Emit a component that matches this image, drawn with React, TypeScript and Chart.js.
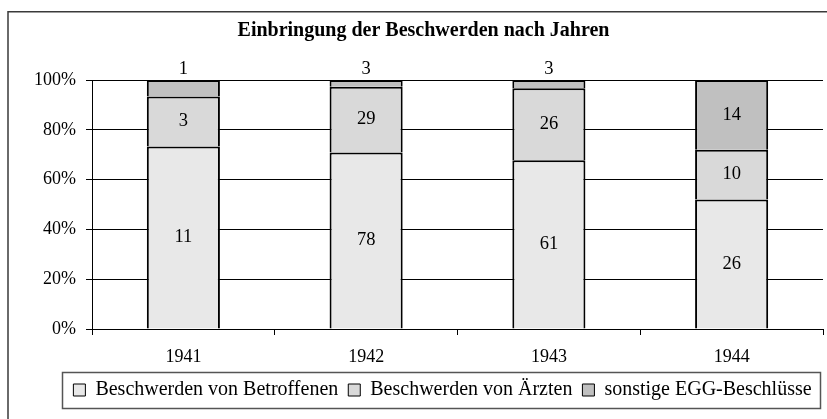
import React, { useEffect, useRef } from 'react';
import { Chart, registerables } from 'chart.js';

Chart.register(...registerables);

const years = ['1941', '1942', '1943', '1944'];
const seriesNames = ['Beschwerden von Betroffenen', 'Beschwerden von Ärzten', 'sonstige EGG-Beschlüsse'];
const betroffene = [11, 78, 61, 26];
const aerzte = [3, 29, 26, 10];
const sonstige = [1, 3, 3, 14];
const seriesColors = ['#e8e8e8', '#d9d9d9', '#c0c0c0'];
const yTickStep = 20;
const titleText = 'Einbringung der Beschwerden nach Jahren';

const FONT = '"Liberation Serif", "Times New Roman", serif';

const rawSeries = [betroffene, aerzte, sonstige];
const totals = years.map((_, i) => rawSeries.reduce((s, arr) => s + arr[i], 0));
const pctSeries = rawSeries.map((arr) => arr.map((v, i) => (v / totals[i]) * 100));

const framePlugin = {
  id: 'frame',
  beforeDraw(chart: any) {
    const ctx = chart.ctx;
    ctx.save();
    ctx.strokeStyle = '#3a3a3a';
    ctx.lineWidth = 1.5;
    ctx.beginPath();
    ctx.moveTo(8, chart.height + 5);
    ctx.lineTo(8, 11.75);
    ctx.lineTo(chart.width + 5, 11.75);
    ctx.stroke();
    ctx.restore();
  },
};

const shiftPlugin = {
  id: 'boxShift',
  afterLayout(chart: any) {
    const t = chart.titleBlock;
    if (t) {
      t.left += 7;
      t.right += 7;
    }
    const lg = chart.legend;
    if (lg) {
      lg.left += 26;
      lg.right += 26;
    }
  },
};

const legendFramePlugin = {
  id: 'legendFrame',
  afterDraw(chart: any) {
    const lg = chart.legend;
    if (!lg || !lg.legendHitBoxes || !lg.legendHitBoxes.length) return;
    const boxes = lg.legendHitBoxes;
    const first = boxes[0];
    const last = boxes[boxes.length - 1];
    const left = Math.round(first.left - 11) + 0.5;
    const right = Math.round(last.left + last.width + 8) + 0.5;
    const top = Math.round(lg.top + 2) + 0.5;
    const ctx = chart.ctx;
    ctx.save();
    ctx.strokeStyle = '#555';
    ctx.lineWidth = 1.5;
    ctx.strokeRect(left, top, right - left, 36);
    ctx.restore();
  },
};

const valueLabelPlugin = {
  id: 'valueLabels',
  afterDatasetsDraw(chart: any) {
    const ctx = chart.ctx;
    ctx.save();
    ctx.font = `18.5px ${FONT}`;
    ctx.fillStyle = '#000';
    ctx.textAlign = 'center';
    ctx.textBaseline = 'middle';
    const n = chart.data.datasets.length;
    chart.data.datasets.forEach((ds: any, di: number) => {
      const meta = chart.getDatasetMeta(di);
      meta.data.forEach((el: any, i: number) => {
        const { x, y, base } = el.getProps(['x', 'y', 'base'], true);
        const h = Math.abs(base - y);
        const label = String(rawSeries[di][i]);
        const top = Math.min(y, base);
        if (di === n - 1 && h < 22) {
          ctx.fillText(label, x, top - 11);
        } else {
          ctx.fillText(label, x, (y + base) / 2);
        }
      });
    });
    ctx.restore();
  },
};

export default function App() {
  const canvasRef = useRef<HTMLCanvasElement | null>(null);

  useEffect(() => {
    if (!canvasRef.current) return;
    Chart.defaults.color = '#000';
    Chart.defaults.font.family = FONT;
    const chart = new Chart(canvasRef.current, {
      type: 'bar',
      data: {
        labels: years,
        datasets: seriesNames.map((name, i) => ({
          label: name,
          data: pctSeries[i],
          backgroundColor: seriesColors[i],
          borderColor: '#000',
          borderWidth: 2,
          barPercentage: 0.4,
          categoryPercentage: 1,
        })),
      },
      options: {
        responsive: false,
        animation: false,
        layout: { padding: { left: 10, right: 4, top: 12, bottom: 9 } },
        plugins: {
          title: {
            display: true,
            text: titleText,
            color: '#000',
            font: { family: FONT, size: 20, weight: 'bold' },
            padding: { top: 7, bottom: 37 },
          },
          legend: {
            display: true,
            position: 'bottom',
            labels: {
              color: '#000',
              font: { family: FONT, size: 20 },
              boxWidth: 12,
              boxHeight: 12,
              padding: 10,
              generateLabels: (chart: any) => {
                const items = Chart.defaults.plugins.legend.labels.generateLabels(chart);
                return items.map((it: any) => ({ ...it, lineWidth: 1, strokeStyle: '#000' }));
              },
            },
          },
          tooltip: { enabled: false },
        },
        scales: {
          x: {
            stacked: true,
            grid: {
              display: true,
              offset: true,
              drawOnChartArea: false,
              drawTicks: true,
              tickLength: 6,
              color: '#000',
            },
            border: { display: true, color: '#000', width: 1 },
            ticks: { color: '#000', font: { family: FONT, size: 18 }, padding: 11 },
            afterFit(scale: any) {
              scale.height = 41;
            },
          },
          y: {
            stacked: true,
            min: 0,
            max: 100,
            grid: { color: '#000', lineWidth: 1, tickLength: 6, drawTicks: true },
            border: { display: true, color: '#000', width: 1 },
            ticks: {
              stepSize: yTickStep,
              color: '#000',
              padding: 10,
              font: { family: FONT, size: 18 },
              callback: (v: any) => `${v}%`,
            },
            afterFit(scale: any) {
              scale.width = 82;
            },
          },
        },
      },
      plugins: [framePlugin, shiftPlugin, legendFramePlugin, valueLabelPlugin],
    } as any);
    return () => chart.destroy();
  }, []);

  return (
    <div style={{ position: 'absolute', left: 0, top: 0, width: 827, height: 419, background: '#fff' }}>
      <canvas ref={canvasRef} width={827} height={419} style={{ display: 'block' }} />
    </div>
  );
}
